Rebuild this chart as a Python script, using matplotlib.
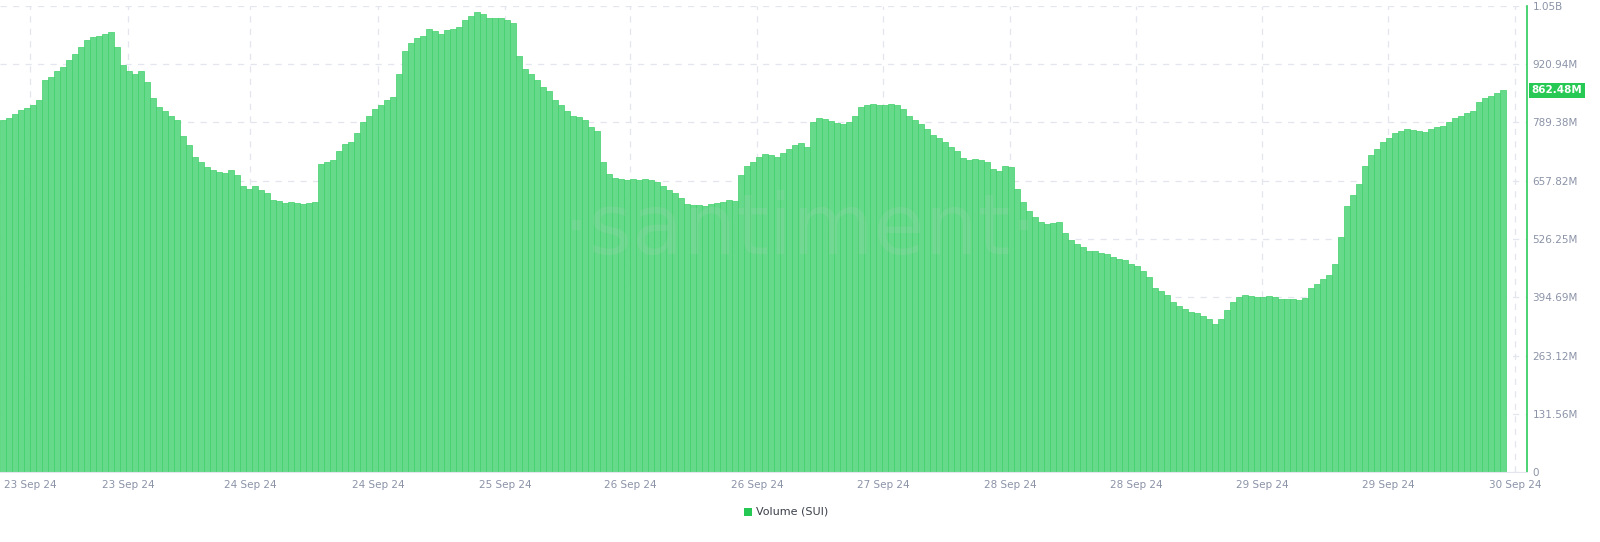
import matplotlib
matplotlib.use("Agg")
import matplotlib.pyplot as plt
import numpy as np

volume_m = [795,800,808,818,822,828,840,885,892,905,915,930,945,960,975,982,985,990,994,960,920,905,900,905,880,845,825,815,805,795,760,738,712,700,688,682,678,675,682,670,645,640,645,638,630,615,612,608,610,608,605,608,610,695,700,705,725,740,745,765,790,805,820,830,840,848,900,950,970,980,985,1000,995,990,998,1000,1005,1020,1030,1040,1035,1025,1025,1025,1022,1015,940,910,900,885,870,860,840,830,815,805,802,795,780,770,700,672,665,662,660,662,660,662,660,655,645,638,630,618,605,602,603,600,605,608,610,615,612,670,690,700,712,718,715,712,720,730,738,742,735,790,800,798,792,788,785,790,805,825,830,832,830,830,832,828,820,805,795,785,775,762,755,745,735,725,710,705,708,705,700,685,680,690,688,640,610,590,575,565,560,562,565,540,525,515,508,500,500,495,492,485,480,478,470,465,455,440,415,408,400,385,375,368,362,358,352,345,335,345,365,385,395,400,398,396,395,398,396,390,390,390,388,392,415,425,435,445,470,530,600,625,650,690,715,730,745,755,765,770,775,772,770,768,775,780,782,790,800,805,810,815,835,845,850,855,862.48]
ytick_vals = [0,131.56,263.12,394.69,526.25,657.82,789.38,920.94,1052.5]
ytick_labels = ["0","131.56M","263.12M","394.69M","526.25M","657.82M","789.38M","920.94M","1.05B"]
xtick_px = [30,128,250,378,505,630,757,883,1010,1136,1262,1388,1515]
xtick_labels = ["23 Sep 24","23 Sep 24","24 Sep 24","24 Sep 24","25 Sep 24","26 Sep 24","26 Sep 24","27 Sep 24","28 Sep 24","28 Sep 24","29 Sep 24","29 Sep 24","30 Sep 24"]
last_label = "862.48M"

fig = plt.figure(figsize=(16, 5.42), dpi=100)
ax = fig.add_axes([0, 1 - 472/542, 1527/1600, 466/542])
x = np.arange(len(volume_m))
ax.bar(x, volume_m, width=0.85, color="#66d98a", edgecolor="#3fd068", linewidth=0.5, zorder=2)
px = 6.0
ax.set_xlim(-0.5, 1527/px - 0.5)
ax.set_ylim(0, 1052.5)
ax.yaxis.tick_right()
ax.set_yticks(ytick_vals)
ax.set_yticklabels(ytick_labels)
ax.set_xticks([p/px - 0.5 for p in xtick_px])
ax.set_xticklabels(xtick_labels)
ax.tick_params(axis="both", length=0, labelsize=7.5, colors="#8b93a7")
ax.tick_params(axis="x", pad=6)
ax.tick_params(axis="y", pad=4)
ax.grid(True, color="#e3e6ee", linestyle=(0, (5, 5)), linewidth=0.9, zorder=0)
for s in ["top", "left"]:
    ax.spines[s].set_visible(False)
ax.spines["right"].set_color("#2bcc5a")
ax.spines["right"].set_linewidth(1.2)
ax.spines["bottom"].set_color("#e3e6ee")
ax.text(1.003, volume_m[-1], last_label, transform=ax.get_yaxis_transform(), va="center", ha="left",
        fontsize=7.5, color="white", fontweight="bold",
        bbox=dict(boxstyle="square,pad=0.25", fc="#26c953", ec="none"))
fig.text(0.5, 0.575, "·santiment·", ha="center", va="center", fontsize=60, color="#d8d8d8", alpha=0.12, zorder=5)
fig.patches.append(plt.Rectangle((744/1600, 1-516/542), 8/1600, 8/542, transform=fig.transFigure, fc="#26c953", ec="none"))
fig.text(756/1600, 1-512/542, "Volume (SUI)", ha="left", va="center", fontsize=8, color="#3a3f4a")
fig.savefig("out.png", dpi=100)
